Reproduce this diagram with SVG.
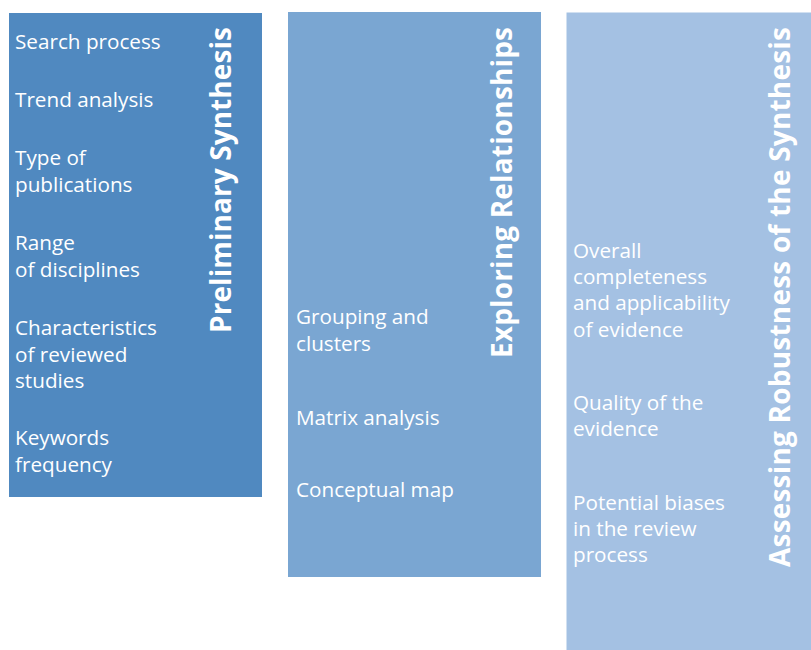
<svg xmlns="http://www.w3.org/2000/svg" width="811" height="650" viewBox="0 0 811 650">
<style>
.item{font-family:"Open Sans","Liberation Sans",sans-serif;font-size:20.7px;fill:#ffffff}
.head{font-family:"Open Sans","Liberation Sans",sans-serif;font-size:28px;font-weight:bold;fill:#ffffff}
</style>
<rect width="811" height="650" fill="#ffffff"/>
<g id="preliminary-synthesis">
<rect x="9" y="13" width="253" height="484" fill="#5089c0"/>
<text class="head" transform="translate(231,333) rotate(-90)" textLength="306">Preliminary Synthesis</text>
<text class="item" x="15" y="49">Search process</text>
<text class="item" x="15" y="107">Trend analysis</text>
<text class="item" x="15" y="165">Type of</text>
<text class="item" x="15" y="192">publications</text>
<text class="item" x="15" y="250">Range</text>
<text class="item" x="15" y="277">of disciplines</text>
<text class="item" x="15" y="335">Characteristics</text>
<text class="item" x="15" y="362">of reviewed</text>
<text class="item" x="15" y="388">studies</text>
<text class="item" x="15" y="445">Keywords</text>
<text class="item" x="15" y="472">frequency</text>
</g>
<g id="exploring-relationships">
<rect x="288" y="12" width="253" height="565" fill="#7aa6d2"/>
<text class="head" transform="translate(512,358) rotate(-90)" textLength="331">Exploring Relationships</text>
<text class="item" x="296" y="324">Grouping and</text>
<text class="item" x="296" y="351">clusters</text>
<text class="item" x="296" y="425">Matrix analysis</text>
<text class="item" x="296" y="497">Conceptual map</text>
</g>
<g id="assessing-robustness">
<rect x="566.5" y="12.5" width="245" height="638" fill="#a4c1e3"/>
<text class="head" transform="translate(790,567) rotate(-90)" textLength="540">Assessing Robustness of the Synthesis</text>
<text class="item" x="573" y="258">Overall</text>
<text class="item" x="573" y="284">completeness</text>
<text class="item" x="573" y="310">and applicability</text>
<text class="item" x="573" y="337">of evidence</text>
<text class="item" x="573" y="410">Quality of the</text>
<text class="item" x="573" y="436">evidence</text>
<text class="item" x="573" y="510">Potential biases</text>
<text class="item" x="573" y="536">in the review</text>
<text class="item" x="573" y="562">process</text>
</g>
<g id="connectors"></g>
</svg>
